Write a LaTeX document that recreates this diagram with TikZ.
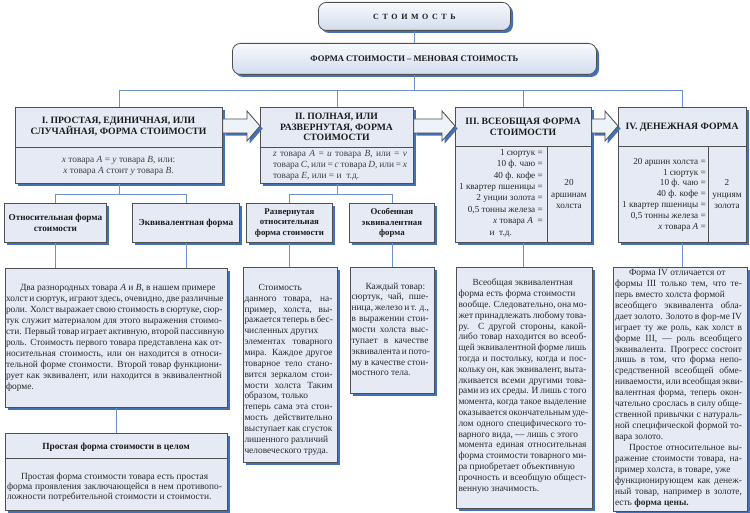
\documentclass[tikz,border=0pt]{standalone}
\usepackage{fontspec}
\setmainfont{Liberation Serif}
\usetikzlibrary{shadows,calc}
\definecolor{boxfill}{HTML}{E5EAF5}
\definecolor{topfill}{HTML}{F7F9FC}
\definecolor{botfill}{HTML}{D3DDEE}
\definecolor{shadowblue}{HTML}{4470B8}
\definecolor{linkblue}{HTML}{6B90CC}
\definecolor{edgegray}{HTML}{505050}
\definecolor{arrowfill}{HTML}{EEF2F9}
\definecolor{hdtext}{HTML}{1C1C1C}
\definecolor{bodytext}{HTML}{2A2A2A}
\definecolor{fmtext}{HTML}{404040}
\newcommand\LJ[1]{\hbox to\hsize{#1}}
\newcommand\LL[1]{\hbox to\hsize{#1\hfil}}
\newcommand\PI{\hspace*{14pt}}
\newcommand\Para[2]{\vtop{\hsize=#1\relax #2}}
\newcommand\ls{\hspace{3.6pt}}
\newcommand\blockarrow[2]{%
  \draw[barrow] let \p1=(#1.east), \p2=(#2.west) in
   (\x1,-119pt) -- (\x2-13pt,-119pt) -- (\x2-13pt,-111pt) -- (\x2,-126pt)
   -- (\x2-13pt,-141pt) -- (\x2-13pt,-133pt) -- (\x1,-133pt) -- cycle;}
\tikzset{
  box/.style={draw=edgegray, line width=0.8pt, fill=boxfill, inner sep=0pt, anchor=north west,
    drop shadow={shadow xshift=2.6pt, shadow yshift=-2.6pt, fill=shadowblue, opacity=1}},
  rbox/.style={box, rounded corners=8pt, top color=topfill, bottom color=botfill},
  sub/.style={box, align=center, font=\fontsize{9.2}{11}\selectfont\bfseries, text=hdtext},
  divider/.style={draw=edgegray, line width=0.8pt},
  link/.style={draw=linkblue, line width=0.8pt},
  hd/.style={align=center, font=\fontsize{9.7}{11}\selectfont\bfseries, text=hdtext, inner sep=0pt},
  fm/.style={align=center, font=\fontsize{9.4}{10.5}\selectfont, text=fmtext, inner sep=0pt},
  col/.style={align=right, font=\fontsize{9.2}{11.4}\selectfont, text=bodytext, inner sep=0pt, anchor=north east},
  colc/.style={align=center, font=\fontsize{9.2}{11.5}\selectfont, text=bodytext, inner sep=0pt},
  para/.style={inner sep=0pt, anchor=north, text=bodytext},
  barrow/.style={draw=edgegray, line width=0.8pt, fill=arrowfill,
    drop shadow={shadow xshift=2.6pt, shadow yshift=-2.6pt, fill=shadowblue, opacity=1}},
}
\begin{document}
\begin{tikzpicture}[x=1pt,y=-1pt]
\useasboundingbox (0,0) rectangle (750,513);

% top boxes
\node[rbox, minimum width=192pt, minimum height=28pt, font=\fontsize{8}{10}\selectfont\bfseries, text=hdtext] (top) at (318,2)
  {С\ls Т\ls О\ls И\ls М\ls О\ls С\ls Т\ls Ь};
\node[rbox, minimum width=364pt, minimum height=31pt, font=\fontsize{8.6}{10}\selectfont\bfseries, text=hdtext] (form) at (232,43)
  {ФОРМА СТОИМОСТИ – МЕНОВАЯ СТОИМОСТЬ};

% main boxes
\node[box, minimum width=207pt, minimum height=76pt] (b1) at (15,107) {};
\node[box, minimum width=153pt, minimum height=76pt] (b2) at (260,107) {};
\node[box, minimum width=136pt, minimum height=135pt] (b3) at (455,107) {};
\node[box, minimum width=128pt, minimum height=135pt] (b4) at (618,107) {};
\draw[divider] (15,147) -- (222,147);
\draw[divider] (260,147) -- (413,147);
\draw[divider] (455,146) -- (591,146);
\draw[divider] (547,146) -- (547,242);
\draw[divider] (618,146) -- (746,146);
\draw[divider] (708,146) -- (708,242);

% sub boxes
\node[sub, minimum width=102pt, minimum height=39pt] (s1a) at (4,203) {Относительная форма\\стоимости};
\node[sub, minimum width=107pt, minimum height=39pt] (s1b) at (132,203) {Эквивалентная форма};
\node[sub, minimum width=86pt, minimum height=39pt, font=\fontsize{8.8}{10.6}\selectfont\bfseries] (s2a) at (246,203) {Развернутая\\относительная\\форма стоимости};
\node[sub, minimum width=85pt, minimum height=39pt, font=\fontsize{8.8}{10.6}\selectfont\bfseries] (s2b) at (349,203) {Особенная\\эквивалентная\\форма};

% text boxes
\node[box, minimum width=222pt, minimum height=139pt] (t1) at (5,268) {};
\node[box, minimum width=222pt, minimum height=77pt] (t1s) at (5,433) {};
\draw[divider] (5,458) -- (227,458);
\node[box, minimum width=94pt, minimum height=195pt] (t2a) at (243,267) {};
\node[box, minimum width=84pt, minimum height=126pt] (t2b) at (350,267) {};
\node[box, minimum width=136pt, minimum height=241pt] (t3) at (456,267) {};
\node[box, minimum width=134pt, minimum height=244pt] (t4) at (613,267) {};

% connectors
\draw[link] (top.south) -- (form.north);
\draw[link] (form.south) -- ++(0,16) -| (b1.north);
\draw[link] (form.south) -- ++(0,16) -| (b2.north);
\draw[link] (form.south) -- ++(0,16) -| (b3.north);
\draw[link] (form.south) -- ++(0,16) -| (b4.north);
\draw[link] (b1.south) -- ++(0,11) -| (s1a.north);
\draw[link] (b1.south) -- ++(0,11) -| (s1b.north);
\draw[link] (s1a.south) -- (s1a.south |- t1.north);
\draw[link] (s1b.south) -- (s1b.south |- t1.north);
\draw[link] (t1.south) -- (t1s.north);
\draw[link] (b2.south) -- ++(0,11) -| (s2a.north);
\draw[link] (b2.south) -- ++(0,11) -| (s2b.north);
\draw[link] (s2a.south) -- (s2a.south |- t2a.north);
\draw[link] (s2b.south) -- (s2b.south |- t2b.north);
\draw[link] (b3.south) -- (b3.south |- t3.north);
\draw[link] (b4.south) -- (b4.south |- t4.north);

% block arrows
\blockarrow{b1}{b2}
\blockarrow{b2}{b3}
\blockarrow{b3}{b4}

% box I texts
\node[hd] (b1h) at (118.5,126.5) {I. ПРОСТАЯ, ЕДИНИЧНАЯ, ИЛИ\\СЛУЧАЙНАЯ, ФОРМА СТОИМОСТИ};
\node[fm] (b1f) at (118.5,166) {\textit{x} товара \textit{A} = \textit{y} товара \textit{B}, или:\\\textit{x} товара \textit{A} стоит \textit{y} товара \textit{B}.};

% box II texts
\node[hd, font=\fontsize{9.7}{10.6}\selectfont\bfseries] (b2h) at (336.5,127) {II. ПОЛНАЯ, ИЛИ\\РАЗВЕРНУТАЯ, ФОРМА\\СТОИМОСТИ};
\node[para, font=\fontsize{9.4}{11.2}\selectfont, text=fmtext] (b2f) at (340,150) {\Para{134pt}{%
\LJ{\textit{z} товара \textit{A} = \textit{u} товара \textit{B}, или = \textit{v}}
\LJ{товара \textit{C}, или = \textit{с} товара \textit{D}, или = \textit{x}}
\LL{товара \textit{E}, или = и\ \ т.д.}}};

% box III texts
\node[hd, font=\fontsize{9.7}{10.7}\selectfont\bfseries] (b3h) at (523,127) {III. ВСЕОБЩАЯ ФОРМА\\СТОИМОСТИ};
\node[col] (b3l) at (543,149) {1 сюртук =\\10 ф. чаю =\\40 ф. кофе =\\1 квартер пшеницы =\\2 унции золота =\\0,5 тонны железа =\\\textit{x} товара \textit{A}\ \ =\\и\ \ т.д.\rule{31pt}{0pt}};
\node[colc] (b3r) at (569,194) {20\\аршинам\\холста};

% box IV texts
\node[hd] (b4h) at (682,127) {IV. ДЕНЕЖНАЯ ФОРМА};
\node[col, font=\fontsize{9.2}{10.8}\selectfont] (b4l) at (706,158) {20 аршин холста =\\1 сюртук =\\10 ф. чаю =\\40 ф. кофе =\\1 квартер пшеницы =\\0,5 тонны железа =\\\textit{x} товара \textit{A} =};
\node[colc] (b4r) at (727,194) {2\\унциям\\золота};

% text I
\node[para, font=\fontsize{9.4}{11}\selectfont] (t1x) at (114,284) {\Para{216pt}{%
\LL{\PI Два разнородных товара \textit{A} и \textit{B}, в нашем примере}
\LJ{холст и сюртук, играют здесь, очевидно, две различные}
\LJ{роли. Холст выражает свою стоимость в сюртуке, сюр-}
\LJ{тук служит материалом для этого выражения стоимо-}
\LJ{сти. Первый товар играет активную, второй пассивную}
\LJ{роль. Стоимость первого товара представлена как от-}
\LJ{носительная стоимость, или он находится в относи-}
\LJ{тельной форме стоимости. Второй товар функциони-}
\LJ{рует как эквивалент, или находится в эквивалентной}
\LL{форме.}}};

\node[hd, font=\fontsize{9.4}{11}\selectfont\bfseries] (t1sh) at (116,447.5) {Простая форма стоимости в целом};
\node[para, font=\fontsize{9.4}{10.2}\selectfont] (t1sx) at (114.5,472.5) {\Para{215pt}{%
\LL{\PI Простая форма стоимости товара есть простая}
\LJ{форма проявления заключающейся в нем противопо-}
\LL{ложности потребительной стоимости и стоимости.}}};

% text II a
\node[para, font=\fontsize{9.4}{10.85}\selectfont] (t2ax) at (288.5,284) {\Para{88pt}{%
\LL{\PI Стоимость}
\LJ{данного товара, на-}
\LJ{пример, холста, вы-}
\LJ{ражается теперь в бес-}
\LL{численных других}
\LJ{элементах товарного}
\LJ{мира. Каждое другое}
\LJ{товарное тело стано-}
\LJ{вится зеркалом стои-}
\LJ{мости холста Таким}
\LL{образом, только}
\LJ{теперь сама эта стои-}
\LJ{мость действительно}
\LJ{выступает как сгусток}
\LL{лишенного различий}
\LL{человеческого труда.}}};

% text II b
\node[para, font=\fontsize{9.4}{10.85}\selectfont] (t2bx) at (390,282.5) {\Para{77pt}{%
\LL{\PI Каждый товар:}
\LJ{сюртук, чай, пше-}
\LJ{ница, железо и т. д.,}
\LJ{в выражении стои-}
\LJ{мости холста выс-}
\LJ{тупает в качестве}
\LJ{эквивалента и пото-}
\LJ{му в качестве стои-}
\LL{мостного тела.}}};

% text III
\node[para, font=\fontsize{9.4}{10.8}\selectfont] (t3x) at (522.5,279) {\Para{128pt}{%
\LL{\PI Всеобщая эквивалентная}
\LL{форма есть форма стоимости}
\LJ{вообще. Следовательно, она мо-}
\LJ{жет принадлежать любому това-}
\LJ{ру. С другой стороны, какой-}
\LJ{либо товар находится во всеоб-}
\LJ{щей эквивалентной форме лишь}
\LJ{тогда и постольку, когда и пос-}
\LJ{кольку он, как эквивалент, выта-}
\LJ{лкивается всеми другими това-}
\LJ{рами из их среды. И лишь с того}
\LJ{момента, когда такое выделение}
\LJ{оказывается окончательным уде-}
\LJ{лом одного специфического то-}
\LL{варного вида, — лишь с этого}
\LJ{момента единая относительная}
\LJ{форма стоимости товарного ми-}
\LL{ра приобретает объективную}
\LJ{прочность и всеобщую общест-}
\LL{венную значимость.}}};

% text IV
\node[para, font=\fontsize{9.4}{10.95}\selectfont] (t4x) at (678.5,269) {\Para{127pt}{%
\LL{\PI Форма IV отличается от}
\LJ{формы III только тем, что те-}
\LL{перь вместо холста формой}
\LJ{всеобщего эквивалента обла-}
\LJ{дает золото. Золото в фор-ме IV}
\LJ{играет ту же роль, как холст в}
\LJ{форме III, — роль всеобщего}
\LJ{эквивалента. Прогресс состоит}
\LJ{лишь в том, что форма непо-}
\LJ{средственной всеобщей обме-}
\LJ{ниваемости, или всеобщая экви-}
\LJ{валентная форма, теперь окон-}
\LJ{чательно срослась в силу обще-}
\LJ{ственной привычки с натураль-}
\LJ{ной специфической формой то-}
\LL{вара золото.}
\LJ{\PI Простое относительное вы-}
\LJ{ражение стоимости товара, на-}
\LL{пример холста, в товаре, уже}
\LJ{функционирующем как денеж-}
\LJ{ный товар, например в золоте,}
\LL{есть \textbf{форма цены.}}}};
\end{tikzpicture}
\end{document}
